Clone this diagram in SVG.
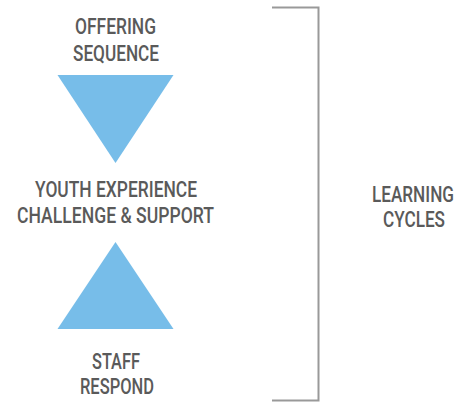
<svg xmlns="http://www.w3.org/2000/svg" width="456" height="402" viewBox="0 0 456 402">
<style>
.t{font-family:Roboto,"Liberation Sans",sans-serif;font-size:22px;font-weight:500;fill:#5a5a5a;text-anchor:middle}
.s{font-size:17px}
.tri{fill:#77bde9}
.br{fill:none;stroke:#999;stroke-width:2}
</style>
<rect width="456" height="402" fill="#fff"/>
<g id="offering">
<text class="t" x="115.5" y="34" textLength="81" lengthAdjust="spacingAndGlyphs">OFFERING</text>
<text class="t" x="116" y="61" textLength="86" lengthAdjust="spacingAndGlyphs">SEQUENCE</text>
</g>
<g id="down-triangle"><polygon class="tri" points="57.5,75 173.5,75 115.5,163"/></g>
<g id="youth">
<text class="t" x="116" y="197" textLength="162" lengthAdjust="spacingAndGlyphs">YOUTH EXPERIENCE</text>
<text class="t" x="115.5" y="223" textLength="197" lengthAdjust="spacingAndGlyphs">CHALLENGE &amp; SUPPORT</text>
</g>
<g id="up-triangle"><polygon class="tri" points="115.5,242 173.5,329 57.5,329"/></g>
<g id="staff">
<text class="t" x="116" y="369" textLength="48" lengthAdjust="spacingAndGlyphs">STAFF</text>
<text class="t" x="117" y="394" textLength="74" lengthAdjust="spacingAndGlyphs">RESPOND</text>
</g>
<g id="connectors"><polyline class="br" points="272,7.5 318.5,7.5 318.5,400.5 272,400.5"/></g>
<g id="learning">
<text class="t s" transform="translate(413,202) scale(1,1.294)" x="0" y="0" textLength="82" lengthAdjust="spacingAndGlyphs">LEARNING</text>
<text class="t s" transform="translate(414,227) scale(1,1.294)" x="0" y="0" textLength="62" lengthAdjust="spacingAndGlyphs">CYCLES</text>
</g>
</svg>
